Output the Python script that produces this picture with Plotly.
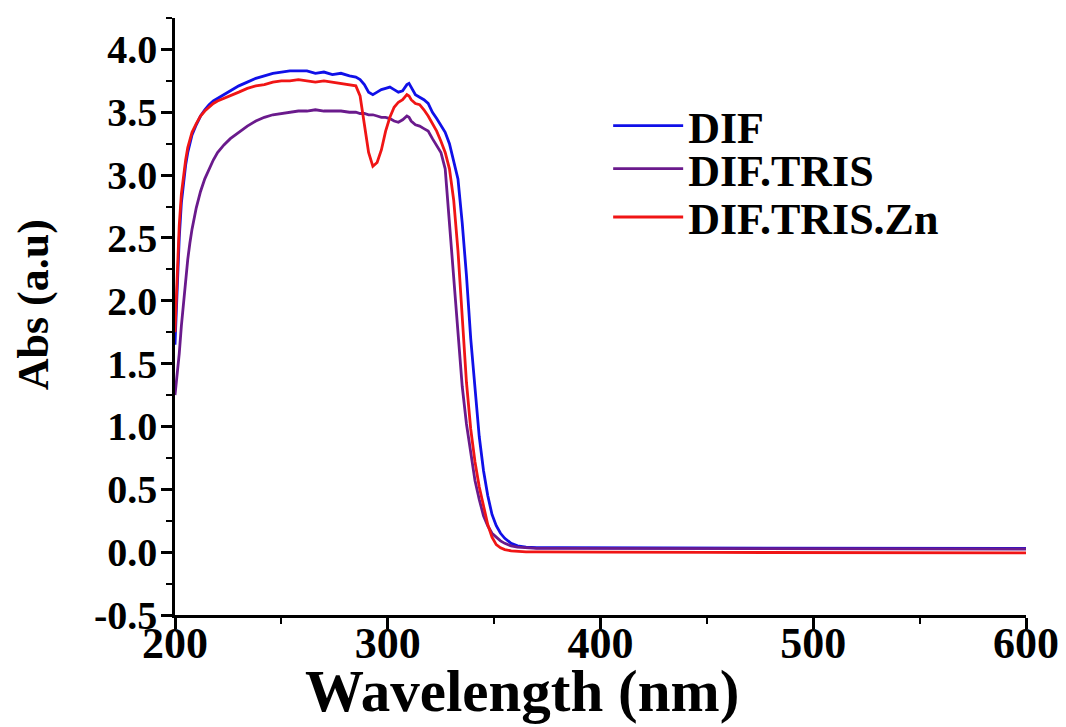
import plotly.graph_objects as go

# Wavelength (nm)
wavelength = [200, 201, 202, 203, 204, 205, 206, 207, 208, 210, 212, 214, 216, 218, 220,
              223, 226, 230, 234, 238, 242, 246, 250, 254, 258, 262, 266, 270, 274, 278,
              282, 285, 287, 289, 291, 293, 295, 297, 299, 301, 303, 305, 307, 309, 310,
              311, 313, 315, 317, 319, 321, 323, 325, 327, 329, 331, 333, 335, 337, 339,
              341, 343, 345, 347, 349, 351, 353, 355, 358, 361, 365, 370, 380, 400, 450,
              500, 550, 600]

dif = [1.65, 2.10, 2.50, 2.78, 2.95, 3.08, 3.18, 3.26, 3.32, 3.40, 3.47, 3.52, 3.56, 3.59, 3.61,
       3.64, 3.67, 3.71, 3.74, 3.77, 3.79, 3.81, 3.82, 3.83, 3.83, 3.83, 3.81, 3.82, 3.80, 3.81,
       3.79, 3.78, 3.76, 3.72, 3.66, 3.64, 3.66, 3.68, 3.69, 3.70, 3.68, 3.66, 3.67, 3.72, 3.73,
       3.70, 3.64, 3.62, 3.60, 3.57, 3.50, 3.45, 3.40, 3.34, 3.25, 3.12, 2.97, 2.62, 2.20, 1.70,
       1.30, 0.92, 0.65, 0.45, 0.30, 0.21, 0.15, 0.11, 0.07, 0.05, 0.04, 0.035, 0.035, 0.035, 0.033,
       0.032, 0.031, 0.030]

dif_tris = [1.25, 1.40, 1.58, 1.80, 2.00, 2.18, 2.33, 2.46, 2.57, 2.74, 2.87, 2.97, 3.05, 3.12, 3.18,
            3.24, 3.29, 3.34, 3.39, 3.43, 3.46, 3.48, 3.49, 3.50, 3.51, 3.51, 3.52, 3.51, 3.51, 3.51,
            3.50, 3.50, 3.49, 3.49, 3.48, 3.48, 3.47, 3.46, 3.46, 3.45, 3.43, 3.42, 3.44, 3.47, 3.46,
            3.43, 3.40, 3.39, 3.37, 3.35, 3.29, 3.24, 3.18, 3.05, 2.62, 2.15, 1.70, 1.32, 1.02, 0.78,
            0.57, 0.42, 0.29, 0.21, 0.15, 0.12, 0.09, 0.07, 0.05, 0.04, 0.035, 0.03, 0.03, 0.03, 0.028,
            0.027, 0.026, 0.025]

dif_tris_zn = [1.75, 2.20, 2.60, 2.85, 3.00, 3.12, 3.22, 3.29, 3.34, 3.41, 3.47, 3.51, 3.54, 3.57, 3.59,
               3.61, 3.63, 3.66, 3.69, 3.71, 3.72, 3.74, 3.75, 3.75, 3.76, 3.75, 3.74, 3.75, 3.74, 3.73,
               3.72, 3.71, 3.63, 3.40, 3.18, 3.07, 3.10, 3.20, 3.35, 3.46, 3.54, 3.58, 3.60, 3.64, 3.63,
               3.60, 3.57, 3.56, 3.52, 3.47, 3.41, 3.35, 3.27, 3.18, 3.05, 2.80, 2.40, 1.85, 1.35, 0.98,
               0.72, 0.52, 0.36, 0.22, 0.12, 0.06, 0.035, 0.02, 0.01, 0.005, 0.003, 0.002, 0.0, 0.0, -0.002,
               -0.003, -0.004, -0.005]

series_names = ["DIF", "DIF.TRIS", "DIF.TRIS.Zn"]
series_values = [dif, dif_tris, dif_tris_zn]
series_colors = ["#1010E8", "#6A1A8C", "#F01515"]
legend_ids = ["legend", "legend2", "legend3"]
legend_y = [0.819, 0.747, 0.666]

y_ticks = [-0.5, 0.0, 0.5, 1.0, 1.5, 2.0, 2.5, 3.0, 3.5, 4.0]
y_ticktext = ["-0.5", "0.0", "0.5", "1.0", "1.5", "2.0", "2.5", "3.0", "3.5", "4.0"]
x_ticks = [200, 300, 400, 500, 600]

FONT = "Liberation Serif, Times New Roman, serif"

fig = go.Figure()
for name, vals, col, lg in zip(series_names, series_values, series_colors, legend_ids):
    fig.add_trace(go.Scatter(x=wavelength, y=vals, mode="lines", name=name, legend=lg,
                             line=dict(color=col, width=2.8)))

legend_common = dict(xanchor="left", yanchor="middle", bgcolor="rgba(0,0,0,0)",
                     itemwidth=70, borderwidth=0,
                     font=dict(family=FONT, size=44, color="black", weight="bold"))
layout_legends = {}
for lg, ly in zip(legend_ids, legend_y):
    layout_legends[lg] = dict(x=0.509, y=ly, **legend_common)

# the page body adds an 8px offset, so the figure is sized to fit inside the window
fig.update_layout(
    width=1058, height=719,
    margin=dict(l=167, r=40, t=10, b=112),
    paper_bgcolor="white", plot_bgcolor="white",
    font=dict(family=FONT, color="black"),
    showlegend=True,
    **layout_legends,
)
fig.update_xaxes(range=[200, 600], tickvals=x_ticks, automargin=False,
                 showline=True, linecolor="black", linewidth=2.5,
                 ticks="outside", ticklen=11, tickwidth=2.5, tickcolor="black",
                 minor=dict(dtick=50, ticks="outside", ticklen=6, tickwidth=2, tickcolor="black"),
                 showgrid=False, zeroline=False, ticklabelstandoff=-24,
                 tickfont=dict(family=FONT, size=44, color="black", weight="bold"))
fig.update_yaxes(range=[-0.5, 4.25], tickvals=y_ticks, ticktext=y_ticktext, automargin=False,
                 showline=True, linecolor="black", linewidth=2.5,
                 ticks="outside", ticklen=11, tickwidth=2.5, tickcolor="black",
                 minor=dict(dtick=0.25, ticks="outside", ticklen=6, tickwidth=2, tickcolor="black"),
                 showgrid=False, zeroline=False, ticklabelstandoff=-4,
                 tickfont=dict(family=FONT, size=40, color="black", weight="bold"))

fig.add_annotation(text="Wavelength (nm)", xref="paper", yref="paper",
                   x=0.408, y=-0.127, xanchor="center", yanchor="middle", showarrow=False,
                   font=dict(family=FONT, size=59, color="black", weight="bold"))
fig.add_annotation(text="Abs (a.u)", xref="paper", yref="paper", textangle=-90,
                   x=-0.166, y=0.52, xanchor="center", yanchor="middle", showarrow=False,
                   font=dict(family=FONT, size=44, color="black", weight="bold"))

fig.write_html("out.html")
